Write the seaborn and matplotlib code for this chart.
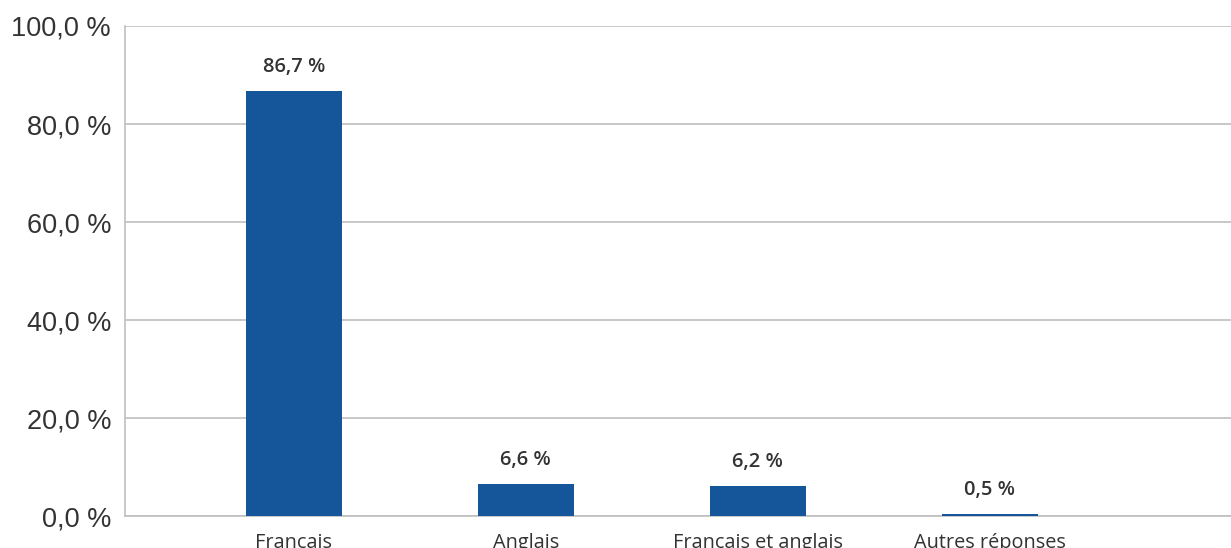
import matplotlib
matplotlib.use("Agg")
import matplotlib.pyplot as plt
import seaborn as sns
import pandas as pd

categories = ["Français", "Anglais", "Français et anglais", "Autres réponses"]
values = [86.7, 6.6, 6.2, 0.5]
yticks = [0, 20, 40, 60, 80, 100]

def fr(v):
    return f"{v:.1f}".replace(".", ",") + " %"

sns.set_theme(style="white")
plt.rcParams['font.family'] = ['Liberation Sans', 'DejaVu Sans']

df = pd.DataFrame({"cat": categories, "val": values})

fig = plt.figure(figsize=(12.31, 5.48), dpi=100)
ax = fig.add_axes([125/1231, 1 - 516/548, 1 - 125/1231, (516 - 26)/548])

sns.barplot(data=df, x="cat", y="val", color="#15569b", width=0.414,
            saturation=1, ax=ax, zorder=3, linewidth=0, edgecolor="none")

ax.set_xlim(-0.728, 4.04)
ax.set_ylim(0, 100)
ax.set_yticks(yticks)
ax.set_yticklabels([fr(t) for t in yticks], fontsize=19.5, color="#333333")
ax.yaxis.grid(True, color="#bfbfbf", linewidth=1.2, zorder=0)
ax.tick_params(axis="y", length=0, pad=10)
ax.tick_params(axis="x", length=0, pad=12)
for lbl in ax.get_xticklabels():
    lbl.set_fontfamily(["Open Sans", "DejaVu Sans"])
    lbl.set_fontsize(14.3)
    lbl.set_color("#333333")
ax.set_xlabel("")
ax.set_ylabel("")

for s in ["top", "right"]:
    ax.spines[s].set_visible(False)
for s in ["left", "bottom"]:
    ax.spines[s].set_color("#bfbfbf")
    ax.spines[s].set_linewidth(1.2)

for i, v in enumerate(values):
    ax.annotate(fr(v), xy=(i, v), xytext=(0, 10), textcoords="offset points",
                ha="center", va="bottom", fontsize=14.5, fontweight="semibold",
                family=["Open Sans", "DejaVu Sans"], color="#333333")

fig.savefig("out.png", dpi=100)
